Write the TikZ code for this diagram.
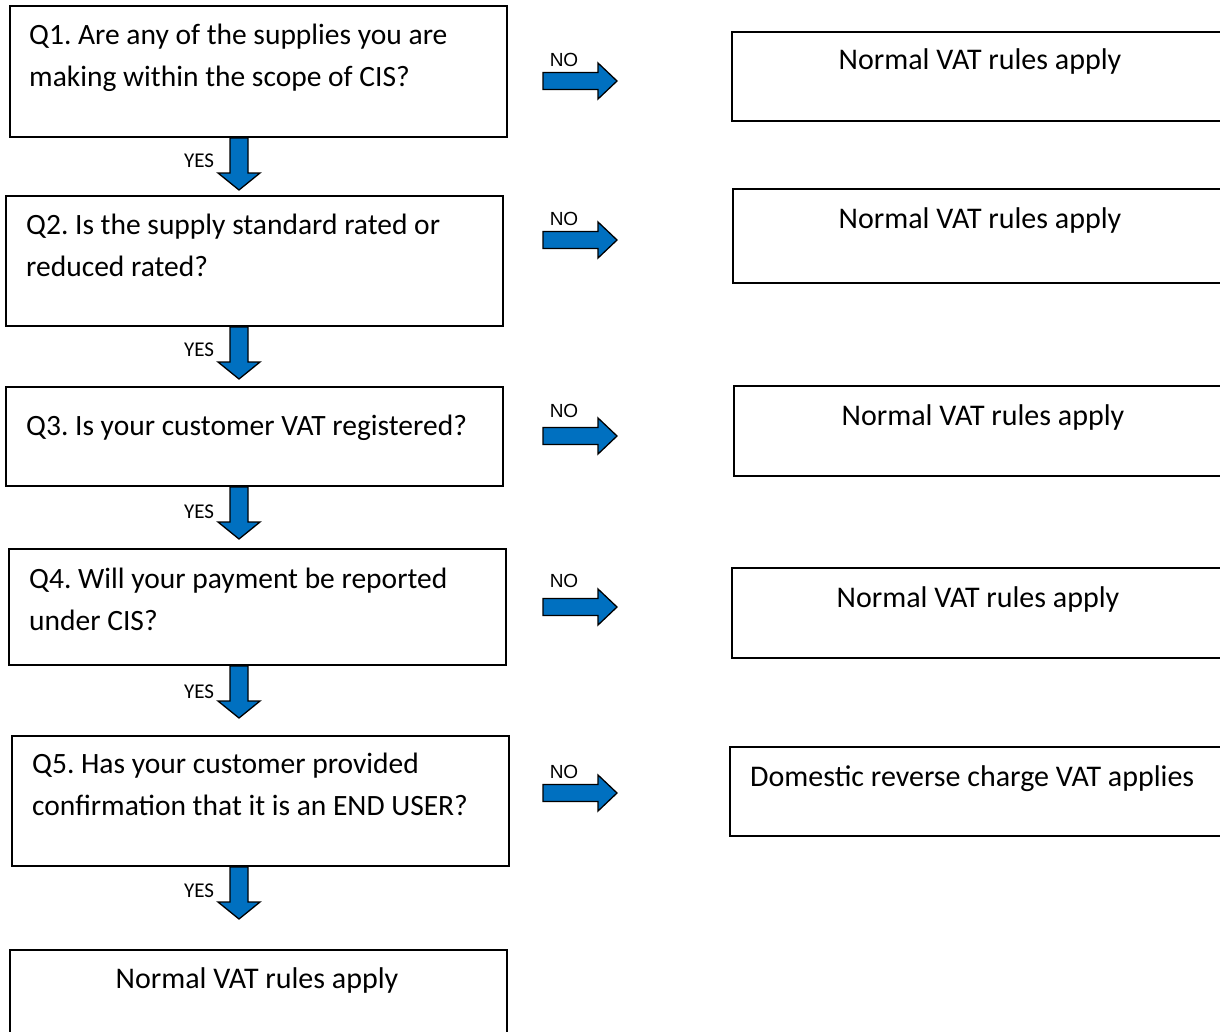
\documentclass[tikz,border=0pt]{standalone}
\usepackage{fontspec}
\setmainfont{Carlito}
\newfontfamily\nofont{Liberation Sans}
\usetikzlibrary{positioning,calc}
\definecolor{arrowblue}{RGB}{0,112,192}
\frenchspacing

\begin{document}
\begin{tikzpicture}[x=1pt, y=-1pt,
	qbox/.style={draw, line width=2pt, anchor=north west, inner sep=0pt, minimum width=497pt},
	rbox/.style={draw, line width=2pt, anchor=north west, inner sep=0pt, minimum width=500pt},
	qtext/.style={anchor=north west, align=left, inner sep=0pt, font=\fontsize{29.5}{42}\selectfont,
		execute at begin node={\rule{0pt}{22pt}}},
	boxtext/.style={anchor=base, inner sep=0pt, font=\fontsize{30}{35}\selectfont},
	blockarrow/.style={draw, line width=1.3pt, fill=arrowblue, line join=miter},
	yeslabel/.style={inner sep=0pt, font=\fontsize{21}{21}\selectfont},
	nolabel/.style={inner sep=0pt, font=\nofont\fontsize{19}{19}\selectfont}]
		\useasboundingbox (0,0) rectangle (1220,1031);
		\clip (0,0) rectangle (1220,1031);
		\node[qbox, minimum height=131pt] (q1) at (9,5) {};
		\node[qbox, minimum height=130pt] (q2) at (5,195) {};
		\node[qbox, minimum height=99pt] (q3) at (5,386) {};
		\node[qbox, minimum height=116pt] (q4) at (8,548) {};
		\node[qbox, minimum height=130pt] (q5) at (11,735) {};
		\node[qbox, minimum height=100pt] (final) at (9,949) {};
		\node[qtext, below right=19pt and 20pt of q1.north west] (q1text) {Q1. Are any of the supplies you are\\making within the scope of CIS?};
		\node[qtext, below right=19pt and 21pt of q2.north west] (q2text) {Q2. Is the supply standard rated or\\reduced rated?};
		\node[qtext, below right=27pt and 21pt of q3.north west] (q3text) {Q3. Is your customer VAT registered?};
		\node[qtext, below right=20pt and 21pt of q4.north west] (q4text) {Q4. Will your payment be reported\\under CIS?};
		\node[qtext, below right=18pt and 21pt of q5.north west] (q5text) {Q5. Has your customer provided\\confirmation that it is an END USER?};
		\node[boxtext] (finaltext) at ($(final.north west)+(248,39)$) {Normal VAT rules apply};
		\node[rbox, minimum height=89pt] (r1) at (731,31) {};
		\node[rbox, minimum height=94pt] (r2) at (732,188) {};
		\node[rbox, minimum height=90pt] (r3) at (733,385) {};
		\node[rbox, minimum height=90pt] (r4) at (731,567) {};
		\node[rbox, minimum height=89pt] (r5) at (729,746) {};
		\node[boxtext] (r1text) at ($(r1.north west)+(249,38)$) {Normal VAT rules apply};
		\node[boxtext] (r2text) at ($(r2.north west)+(248,40)$) {Normal VAT rules apply};
		\node[boxtext] (r3text) at ($(r3.north west)+(250,40)$) {Normal VAT rules apply};
		\node[boxtext] (r4text) at ($(r4.north west)+(247,40)$) {Normal VAT rules apply};
		\node[boxtext, anchor=base west] (r5text) at ($(r5.north west)+(21,40)$) {Domestic reverse charge VAT applies};
		\foreach \a/\n/\ly in {q1/1/23, q2/2/23, q3/3/25, q4/4/26, q5/5/24} {
			\coordinate (yes\n) at (239,0 |- \a.south);
			\draw[blockarrow] (yes\n) ++(-9,0) -- ++(18,0) -- ++(0,35) -- ++(12,0) -- ++(-21,17) -- ++(-21,-17) -- ++(12,0) -- cycle;
			\node[yeslabel] (yeslabel\n) at ($(yes\n)+(-40,\ly)$) {YES};
		}
		\foreach \n/\y/\ly in {1/81/60, 2/240/219, 3/436/411, 4/607/581, 5/793/772} {
			\coordinate (no\n) at (543,\y);
			\draw[blockarrow] (no\n) ++(0,-8.5) -- ++(55,0) -- ++(0,-9.5) -- ++(19,18) -- ++(-19,18) -- ++(0,-9.5) -- ++(-55,0) -- cycle;
			\node[nolabel] (nolabel\n) at (564,\ly) {NO};
		}
	\end{tikzpicture}
\end{document}
